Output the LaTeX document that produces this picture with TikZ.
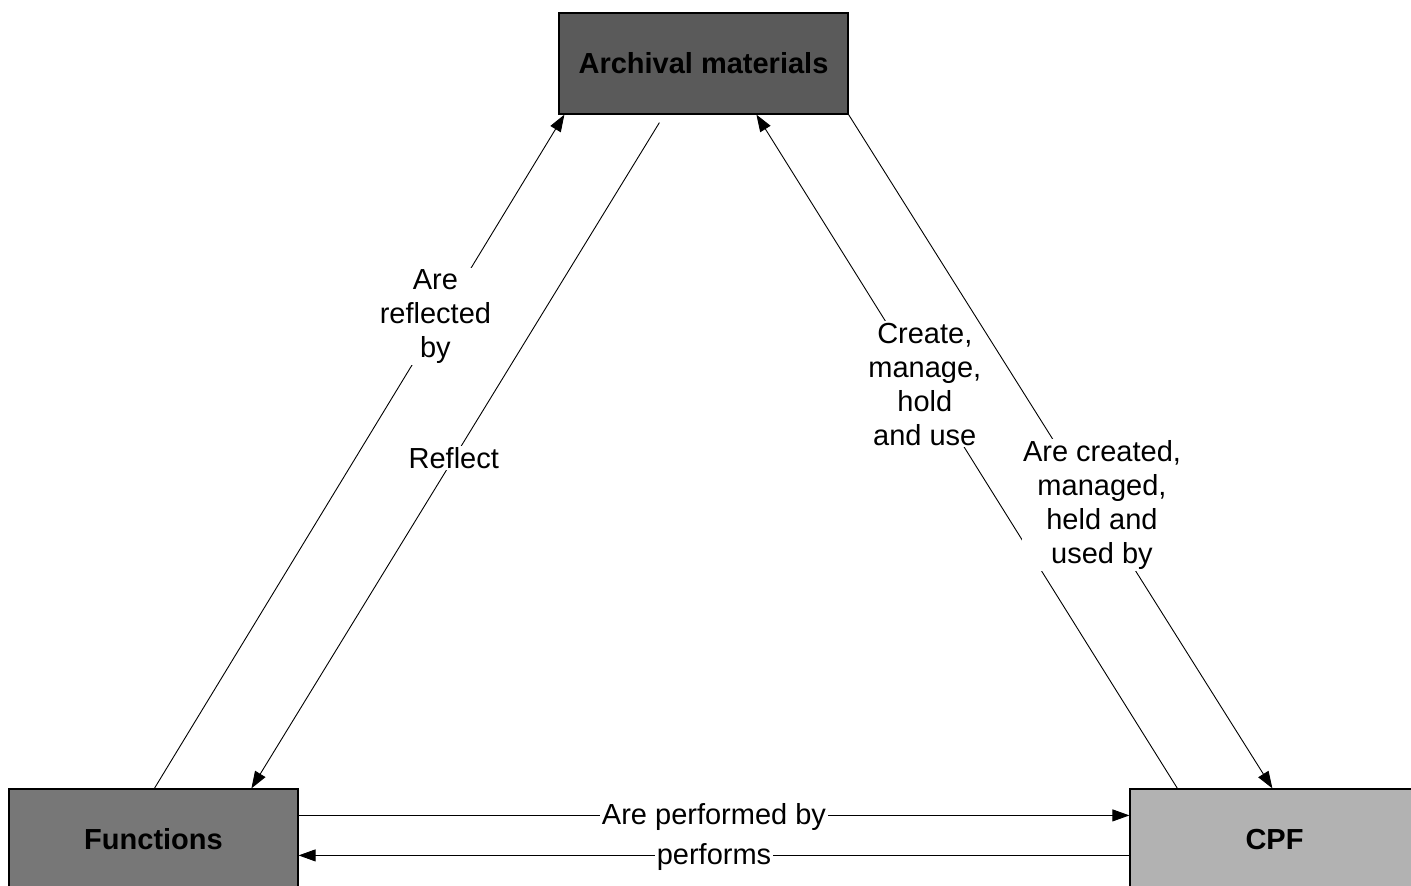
\documentclass[tikz,border=0pt]{standalone}
\usepackage{fontspec}
\setmainfont{Liberation Sans}
\usetikzlibrary{arrows.meta,calc}
\definecolor{amfill}{RGB}{90,90,90}
\definecolor{fnfill}{RGB}{119,119,119}
\definecolor{cpffill}{RGB}{178,178,178}
\begin{document}
\begin{tikzpicture}[x=1pt,y=-1pt,
  entity/.style={draw=black,line width=1.2pt,minimum width=289pt,minimum height=101pt,
    inner sep=0pt,font=\fontsize{29}{34}\selectfont\bfseries,text=black},
  link/.style={draw=black,line width=0.9pt,-{Triangle[length=17pt,width=12pt]}},
  lbl/.style={fill=white,inner sep=1.5pt,align=center,font=\fontsize{29}{34}\selectfont,text=black}]
\useasboundingbox (0,0) rectangle (1411,886);
\clip (0,0) rectangle (1411,886);
\node[entity,fill=amfill] (am) at (703.5,63.5) {Archival materials};
\node[entity,fill=fnfill] (fn) at (153.5,839.5) {Functions};
\node[entity,fill=cpffill] (cpf) at (1274.5,839.5) {CPF};
% Functions -> Archival
\draw[link] ($(fn.north west)+(146,0)$) -- ($(am.south west)+(6,0)$)
  node[lbl,pos=0.70,xshift=-6pt] {Are\\reflected\\by};
% Archival -> Functions
\draw[link] ($(am.south west)+(101,8)$) -- ($(fn.north west)+(243,0)$)
  node[lbl,pos=0.504] {Reflect};
% CPF -> Archival
\draw[link] ($(cpf.north west)+(48,0)$) -- ($(am.south west)+(198,0)$)
  node[lbl,pos=0.60] {Create,\\manage,\\hold\\and use};
% Archival -> CPF
\draw[link] (am.south east) -- ($(cpf.north west)+(143,0)$)
  node[lbl,pos=0.579,xshift=8pt] {Are created,\\managed,\\held and\\used by};
% Functions -> CPF
\draw[link] ($(fn.north east)+(0,27)$) -- ($(cpf.north west)+(0,27)$)
  node[lbl,pos=0.5,yshift=-2pt] {Are performed by};
% CPF -> Functions
\draw[link] ($(cpf.north west)+(0,67)$) -- ($(fn.north east)+(0,67)$)
  node[lbl,pos=0.5,yshift=-2pt] {performs};
\end{tikzpicture}
\end{document}
